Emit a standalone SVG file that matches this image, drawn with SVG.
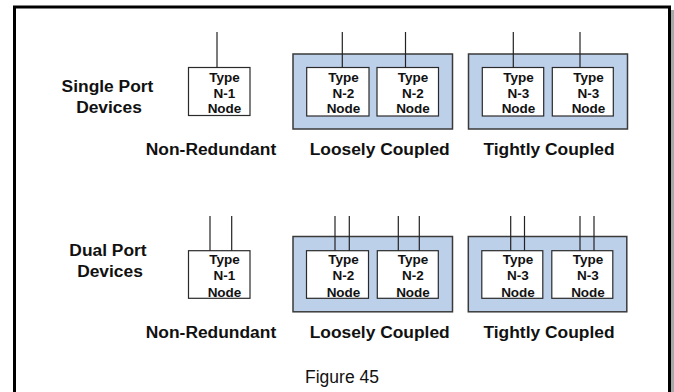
<svg xmlns="http://www.w3.org/2000/svg" width="674" height="392" viewBox="0 0 674 392">
<style>
.lbl{font-family:"Liberation Sans",Arial,sans-serif;font-weight:bold;font-size:17.4px;fill:#111;text-anchor:middle}
.nt{font-family:"Liberation Sans",Arial,sans-serif;font-weight:bold;font-size:13.5px;fill:#111;text-anchor:middle}
.cap{font-family:"Liberation Sans",Arial,sans-serif;font-size:17.5px;fill:#111;text-anchor:middle}
.grp{fill:#bdd0ea;stroke:#3a3a3a;stroke-width:1.5}
.node{fill:#fff;stroke:#2a2a2a;stroke-width:1.2}
.port{stroke:#222;stroke-width:1.2;fill:none}
</style>
<rect x="0" y="0" width="674" height="392" fill="#fff"/>
<rect x="671" y="10" width="3" height="382" fill="#a8a8a8"/>
<rect x="14.5" y="7" width="655" height="400" fill="none" stroke="#000" stroke-width="3"/>

<g id="row-labels">
<text class="lbl" x="107.5" y="91.5">Single Port</text>
<text class="lbl" x="109" y="113">Devices</text>
<text class="lbl" x="108" y="256">Dual Port</text>
<text class="lbl" x="110" y="276.5">Devices</text>
</g>

<!-- Single port row -->
<g id="single-n1">
<rect class="node" x="188.5" y="67.5" width="61.5" height="48"/>
<text class="nt" x="224.5" y="82">Type</text>
<text class="nt" x="224.5" y="97.5">N-1</text>
<text class="nt" x="224.5" y="113">Node</text>
</g>
<g id="single-loose">
<rect class="grp" x="293" y="54" width="159.5" height="75"/>
<g id="single-loose-a">
<rect class="node" x="306.7" y="67.5" width="62.3" height="48.5"/>
<text class="nt" x="343.5" y="82">Type</text>
<text class="nt" x="343.5" y="97.5">N-2</text>
<text class="nt" x="343.5" y="113">Node</text>
</g>
<g id="single-loose-b">
<rect class="node" x="377" y="67.5" width="61.5" height="48.5"/>
<text class="nt" x="413" y="82">Type</text>
<text class="nt" x="413" y="97.5">N-2</text>
<text class="nt" x="413" y="113">Node</text>
</g>
</g>
<g id="single-tight">
<rect class="grp" x="468.5" y="54" width="159" height="75"/>
<g id="single-tight-a">
<rect class="node" x="482.3" y="67.5" width="61.4" height="48.5"/>
<text class="nt" x="518.5" y="82">Type</text>
<text class="nt" x="518.5" y="97.5">N-3</text>
<text class="nt" x="518.5" y="113">Node</text>
</g>
<g id="single-tight-b">
<rect class="node" x="552.3" y="67.5" width="61" height="48.5"/>
<text class="nt" x="588.5" y="82">Type</text>
<text class="nt" x="588.5" y="97.5">N-3</text>
<text class="nt" x="588.5" y="113">Node</text>
</g>
</g>
<g id="single-captions">
<text class="lbl" x="211" y="155">Non-Redundant</text>
<text class="lbl" x="379.7" y="155">Loosely Coupled</text>
<text class="lbl" x="549" y="155">Tightly Coupled</text>
</g>

<!-- Dual port row -->
<g id="dual-n1">
<rect class="node" x="188.5" y="250.7" width="61.5" height="47.6"/>
<text class="nt" x="224.5" y="264">Type</text>
<text class="nt" x="224.5" y="280">N-1</text>
<text class="nt" x="224.5" y="297">Node</text>
</g>
<g id="dual-loose">
<rect class="grp" x="293" y="236.5" width="159.5" height="75.3"/>
<g id="dual-loose-a">
<rect class="node" x="306.5" y="250.7" width="62" height="47.6"/>
<text class="nt" x="343.5" y="264">Type</text>
<text class="nt" x="343.5" y="280">N-2</text>
<text class="nt" x="343.5" y="297">Node</text>
</g>
<g id="dual-loose-b">
<rect class="node" x="377.3" y="250.7" width="61" height="47.6"/>
<text class="nt" x="413" y="264">Type</text>
<text class="nt" x="413" y="280">N-2</text>
<text class="nt" x="413" y="297">Node</text>
</g>
</g>
<g id="dual-tight">
<rect class="grp" x="468.3" y="236.5" width="158.5" height="75.3"/>
<g id="dual-tight-a">
<rect class="node" x="481.8" y="250.7" width="61" height="47.6"/>
<text class="nt" x="518" y="264">Type</text>
<text class="nt" x="518" y="280">N-3</text>
<text class="nt" x="518" y="297">Node</text>
</g>
<g id="dual-tight-b">
<rect class="node" x="551.8" y="250.7" width="61" height="47.6"/>
<text class="nt" x="588" y="264">Type</text>
<text class="nt" x="588" y="280">N-3</text>
<text class="nt" x="588" y="297">Node</text>
</g>
</g>
<g id="dual-captions">
<text class="lbl" x="211" y="338">Non-Redundant</text>
<text class="lbl" x="379.7" y="338">Loosely Coupled</text>
<text class="lbl" x="549" y="338">Tightly Coupled</text>
</g>

<g id="connectors">
<line class="port" x1="217" y1="32" x2="217" y2="67.5"/>
<line class="port" x1="342.3" y1="32" x2="342.3" y2="67.5"/>
<line class="port" x1="405.5" y1="32" x2="405.5" y2="67.5"/>
<line class="port" x1="513.3" y1="32" x2="513.3" y2="67.5"/>
<line class="port" x1="580" y1="32" x2="580" y2="67.5"/>
<line class="port" x1="210" y1="216" x2="210" y2="250.7"/>
<line class="port" x1="231.7" y1="216" x2="231.7" y2="250.7"/>
<line class="port" x1="335" y1="216" x2="335" y2="250.7"/>
<line class="port" x1="349.3" y1="216" x2="349.3" y2="250.7"/>
<line class="port" x1="398.3" y1="216" x2="398.3" y2="250.7"/>
<line class="port" x1="419.3" y1="216" x2="419.3" y2="250.7"/>
<line class="port" x1="510.7" y1="216" x2="510.7" y2="250.7"/>
<line class="port" x1="524.5" y1="216" x2="524.5" y2="250.7"/>
<line class="port" x1="580" y1="216" x2="580" y2="250.7"/>
<line class="port" x1="594" y1="216" x2="594" y2="250.7"/>
</g>

<text class="cap" x="342" y="383">Figure 45</text>
</svg>
